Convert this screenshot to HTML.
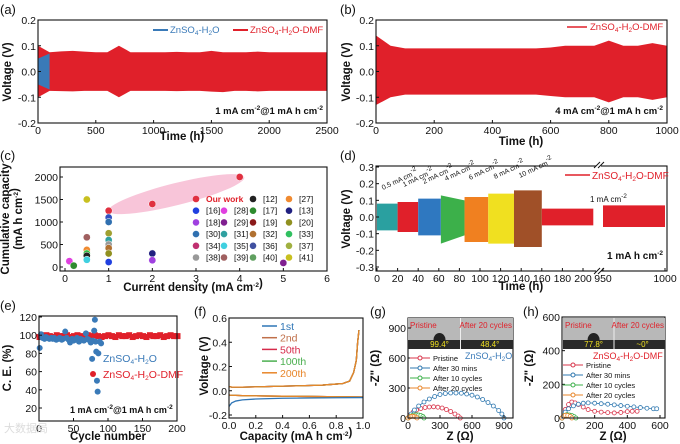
<!DOCTYPE html>
<html><head><meta charset="utf-8"><style>
body{margin:0;background:#fff}
svg{display:block;font-family:"Liberation Sans",Arial,sans-serif}
.t{font-size:10.5px;fill:#111}
.ti{font-size:11.5px;font-weight:bold;fill:#111}
.pl{font-size:13px;fill:#111}
</style></head><body>
<svg id="fig" width="680" height="444" viewBox="0 0 680 444" xmlns="http://www.w3.org/2000/svg"></svg>
<script>
// ---------- data ----------
const aTimes=[0,100,200,300,400,500,600,700,800,900,1000,1100,1200,1300,1400,1500,1600,1700,1800,1900,2000,2100,2200,2300,2400,2500];
const aUpper=[0.1,0.075,0.078,0.08,0.077,0.075,0.075,0.1,0.075,0.075,0.075,0.075,0.076,0.075,0.075,0.08,0.075,0.075,0.075,0.077,0.075,0.075,0.075,0.075,0.075,0.075];
const aLower=[-0.1,-0.075,-0.076,-0.077,-0.075,-0.075,-0.075,-0.1,-0.075,-0.075,-0.075,-0.075,-0.076,-0.075,-0.075,-0.078,-0.08,-0.075,-0.075,-0.077,-0.075,-0.075,-0.075,-0.075,-0.075,-0.075];
const aBlueTimes=[0,100];
const aBlueUpper=[0.05,0.07];
const aBlueLower=[-0.05,-0.07];
const bTimes=[0,50,100,150,200,250,300,350,400,450,500,550,600,650,700,750,800,850,900,950,1000];
const bUpper=[0.14,0.1,0.09,0.09,0.09,0.09,0.09,0.09,0.09,0.09,0.09,0.09,0.093,0.1,0.1,0.1,0.12,0.1,0.1,0.11,0.1];
const bLower=[-0.13,-0.1,-0.09,-0.09,-0.09,-0.09,-0.09,-0.09,-0.09,-0.09,-0.09,-0.09,-0.095,-0.1,-0.1,-0.1,-0.12,-0.1,-0.1,-0.11,-0.1];
const cX=[0.1,0.2,0.5,0.5,0.5,0.5,0.5,0.5,1,1,1,1,1,1,1,1,1,2,2,2,4,5];
const cY=[130,30,1500,660,380,300,250,160,1250,1100,1000,750,600,500,420,300,110,1400,300,150,2000,90];
const cColors=["#e040e0","#2e8b2e","#c8c020","#a06060","#f08a30","#30c040","#222","#40d0e0","#e03040","#3050c0","#3070b0","#a0a030","#30a0a0","#999","#b07030","#909020","#2040e0","#e03040","#202080","#a040e0","#e03040","#802090"];
const cLegendLabels=["Our work","[12]","[27]","[16]","[28]","[17]","[13]","[18]","[29]","[19]","[20]","[30]","[31]","[32]","[33]","[34]","[35]","[36]","[37]","[38]","[39]","[40]","[41]"];
const cLegendColors=["#e03040","#222","#f08a30","#2040e0","#e040e0","#2e8b2e","#202080","#a040e0","#802090","#8b1a1a","#909020","#3070b0","#30a0a0","#b07030","#30c060","#c03070","#40d0e0","#4050a0","#a0b040","#999","#a06060","#60a060","#c8c020"];
const dSegStart=[0,20,40,62,85,108,133,160,950];
const dSegEnd=[20,40,62,85,108,133,160,210,1000];
const dSegUp=[[0.08,0.08],[0.09,0.09],[0.11,0.11],[0.13,0.1],[0.12,0.12],[0.14,0.14],[0.16,0.16],[0.05,0.05],[0.07,0.07]];
const dSegLow=[[-0.08,-0.08],[-0.09,-0.09],[-0.11,-0.11],[-0.16,-0.11],[-0.15,-0.15],[-0.16,-0.16],[-0.18,-0.18],[-0.05,-0.05],[-0.06,-0.06]];
const dSegColors=["#2aa0a0","#e0202a","#2f78c0","#3cb04a","#f08020","#f0e020","#a05028","#e0202a","#e0202a"];
const dSegLabels=["0.5 mA cm","1 mA cm","2 mA cm","4 mA cm","6 mA cm","8 mA cm","10 mA cm"];
const eBlueX=[1,3,5,8,10,12,15,18,20,22,25,28,30,33,35,38,40,43,45,48,50,53,55,58,60,63,65,68,70,72,75,77,78,80,81,82,83,84,85,86,88,90];
const eBlueY=[86,101,97,96,98,97,96,97,96,97,95,96,97,95,96,104,97,95,92,96,94,95,97,93,96,95,94,102,96,95,92,74,94,105,117,93,82,50,38,80,93,91];
const eRedX=[0,5,10,15,20,25,30,35,40,45,50,55,60,65,70,75,80,85,90,95,100,105,110,115,120,125,130,135,140,145,150,155,160,165,170,175,180,185,190,195,200];
const eRedY=[98,99,100,99,98,100,99,99,100,98,99,100,99,98,100,99,100,99,98,99,100,99,98,100,99,99,100,98,99,100,99,98,100,99,99,100,98,99,100,99,99];
const fCap=[0,0.02,0.05,0.1,0.2,0.3,0.4,0.5,0.6,0.7,0.8,0.85,0.9,0.93,0.95,0.96,0.97];
const fChg=[0.035,0.03,0.03,0.03,0.032,0.035,0.038,0.04,0.043,0.047,0.055,0.06,0.08,0.15,0.25,0.4,0.5];
const fDisCap=[0,0.02,0.05,0.1,0.2,0.4,0.6,0.8,1.0];
const f1stDis=[-0.13,-0.1,-0.085,-0.075,-0.068,-0.062,-0.06,-0.058,-0.056];
const fDis=[-0.035,-0.037,-0.038,-0.04,-0.042,-0.045,-0.047,-0.05,-0.052];
const fNames=["1st","2nd","50th","100th","200th"];
const fColors=["#2e75b6","#c0704a","#d62a4a","#4caf50","#e8862a"];
const gBlueZ=[0,30,60,100,150,200,250,300,350,400,450,500,550,600,650,700,750,800,850,880,900];
const gBlueZi=[0,40,80,120,160,190,215,235,245,250,250,248,240,228,210,185,155,120,75,40,0];
const gRedZ=[0,20,50,80,120,160,200,240,280,320,360,400,440,470,490];
const gRedZi=[0,30,60,80,95,105,110,112,108,100,85,65,40,20,0];
const gGreenZ=[0,20,40,60,80,100,120,140,150];
const gGreenZi=[0,15,25,30,32,30,25,15,0];
const gOrangeZ=[0,15,30,45,60,75,85];
const gOrangeZi=[0,10,16,18,15,8,0];
const hRedZ=[0,20,40,60,80,100,130,160,200,240,280,320,360,400,430,460];
const hRedZi=[0,50,80,95,90,80,65,50,40,35,32,30,33,38,40,40];
const hBlueZ=[0,20,40,70,100,130,160,200,240,280,320,360,400,440,480,520,560,580];
const hBlueZi=[0,35,55,72,82,88,90,88,85,82,78,74,70,66,62,58,55,55];
const hGreenZ=[0,15,30,45,60,75,85];
const hGreenZi=[0,15,20,18,15,8,0];
const hOrangeZ=[0,10,20,35,50,60];
const hOrangeZi=[0,12,16,15,10,0];
const legendLabels=["Pristine","After 30 mins","After 10 cycles","After 20 cycles"];
const nyqColors=["#d8344a","#2f78b0","#3cb04a","#e8862a"];

// ---------- helpers ----------
const NS="http://www.w3.org/2000/svg";
const svg=document.getElementById('fig');
function el(tag,attrs,parent){const e=document.createElementNS(NS,tag);for(const k in attrs)e.setAttribute(k,attrs[k]);(parent||svg).appendChild(e);return e;}
function lin(d0,d1,r0,r1){return v=>r0+(v-d0)*(r1-r0)/(d1-d0);}
function txt(x,y,s,cls,name,extra){extra=extra||{};const a={x:x,y:y,class:cls};let st='';
for(const k in extra){if(k==='fill'||k==='font-size'||k==='font-weight')st+=k+':'+extra[k]+(k==='font-size'?'px':'')+';';else a[k]=extra[k];}
if(st)a.style=st;
const t=el('text',a);t.innerHTML=s;


return t;}
function frame(x0,y0,x1,y1,name){const r=el('rect',{x:x0,y:y0,width:x1-x0,height:y1-y0,fill:'none',stroke:'#111','stroke-width':1.1});

}
function xTicks(sx,vals,labels,yb,name){vals.forEach((v,i)=>{el('line',{x1:sx(v),x2:sx(v),y1:yb,y2:yb-3,stroke:'#111'});txt(sx(v),yb+11,labels[i],'t',name+'-tick-label',{'text-anchor':'middle'});});}
function yTicks(sy,vals,labels,xl,name){vals.forEach((v,i)=>{el('line',{x1:xl,x2:xl+3,y1:sy(v),y2:sy(v),stroke:'#111'});txt(xl-2,sy(v)+4,labels[i],'t',name+'-tick-label',{'text-anchor':'end'});});}
function band(xs,up,lo,sx,sy,color,name){let p=xs.map((x,i)=>sx(x)+','+sy(up[i]));for(let i=xs.length-1;i>=0;i--)p.push(sx(xs[i])+','+sy(lo[i]));
const g=el('polygon',{points:p.join(' '),fill:color});

}
function line(xs,ys,sx,sy,color,name,w){const p=el('polyline',{points:xs.map((x,i)=>sx(x)+','+sy(ys[i])).join(' '),fill:'none',stroke:color,'stroke-width':w||1.3});

}
function ytitle(x,y,s,name){txt(x,y,s,'ti',name,{'text-anchor':'middle',transform:'rotate(-90 '+x+' '+y+')'});}
const sub=s=>'<tspan style="font-size:6.5px" dy="2">'+s+'</tspan><tspan dy="-2">';
const sup=s=>'<tspan style="font-size:6.5px" dy="-4">'+s+'</tspan><tspan dy="4">';
const ZnH2O='ZnSO'+sub('4')+'-H'+sub('2')+'O</tspan></tspan>';
const ZnDMF='ZnSO'+sub('4')+'-H'+sub('2')+'O-DMF</tspan></tspan>';

// ---------- (a) ----------
{const sx=lin(0,2500,38,327),sy=lin(-0.2,0.2,123,20);
band(aTimes,aUpper,aLower,sx,sy,'#e0202a','a-dmf-voltage-band');
band(aBlueTimes,aBlueUpper,aBlueLower,sx,sy,'#3a7ab8','a-h2o-voltage-band');
frame(38,20,327,123,'a-plot-frame');
xTicks(sx,[0,500,1000,1500,2000,2500],['0','500','1000','1500','2000','2500'],123,'a-x');
yTicks(sy,[-0.2,-0.1,0,0.1,0.2],['-0.2','-0.1','0.0','0.1','0.2'],38,'a-y');
txt(0,14,'(a)','pl','a-panel-label');
ytitle(11,72,'Voltage (V)','a-y-axis-title');txt(182,140,'Time (h)','ti','a-x-axis-title',{'text-anchor':'middle'});
el('line',{x1:153,x2:168,y1:30,y2:30,stroke:'#3a7ab8','stroke-width':2});txt(170,33,ZnH2O,'t','a-legend-h2o',{fill:'#3a7ab8','font-size':'9.5'});
el('line',{x1:233,x2:248,y1:30,y2:30,stroke:'#e0202a','stroke-width':2});txt(250,33,ZnDMF,'t','a-legend-dmf',{fill:'#e0202a','font-size':'9.5'});
txt(323,114,'1 mA cm'+sup('-2')+'@1 mA h cm'+sup('-2')+'</tspan></tspan>','t','a-condition-label',{'text-anchor':'end','font-weight':'bold','font-size':'9.5'});}

// ---------- (b) ----------
{const sx=lin(0,1000,376,667),sy=lin(-0.2,0.2,123,20);
band(bTimes,bUpper,bLower,sx,sy,'#e0202a','b-dmf-voltage-band');
frame(376,20,667,123,'b-plot-frame');
xTicks(sx,[0,200,400,600,800,1000],['0','200','400','600','800','1000'],123,'b-x');
yTicks(sy,[-0.2,-0.1,0,0.1,0.2],['-0.2','-0.1','0.0','0.1','0.2'],376,'b-y');
txt(340,14,'(b)','pl','b-panel-label');
ytitle(350,72,'Voltage (V)','b-y-axis-title');txt(521,145,'Time (h)','ti','b-x-axis-title',{'text-anchor':'middle'});
el('line',{x1:567,x2:587,y1:27,y2:27,stroke:'#e0202a','stroke-width':1.5});txt(590,30,ZnDMF,'t','b-legend-dmf',{fill:'#e0202a','font-size':'9.5'});
txt(663,114,'4 mA cm'+sup('-2')+'@1 mA h cm'+sup('-2')+'</tspan></tspan>','t','b-condition-label',{'text-anchor':'end','font-weight':'bold','font-size':'9.5'});}

// ---------- (c) ----------
{const sx=lin(0,6,65,327),sy=lin(0,2000,267,177);
const ell=el('ellipse',{cx:sx(2.55),cy:sy(1620),rx:70,ry:11,fill:'#f6b6cf',opacity:0.8,transform:'rotate(-14 '+sx(2.55)+' '+sy(1620)+')'});


cX.forEach((x,i)=>{const c=el('circle',{cx:sx(x),cy:sy(cY[i]),r:3.6,fill:cColors[i],stroke:'#fff','stroke-width':0.5});

});
frame(60,167,327,271,'c-plot-frame');
xTicks(sx,[0,1,2,3,4,5,6],['0','1','2','3','4','5','6'],271,'c-x');
yTicks(sy,[0,500,1000,1500,2000],['0','500','1000','1500','2000'],60,'c-y');
txt(0,160,'(c)','pl','c-panel-label');
ytitle(9,219,'Cumulative capacity','c-y-axis-title');ytitle(22,219,'(mA h cm'+sup('-2')+'</tspan>)','c-y-axis-unit');
txt(193,291,'Current density (mA cm'+sup('-2')+'</tspan>)','ti','c-x-axis-title',{'text-anchor':'middle'});
const colX=[[196,206],[224,234],[253,263],[289,299]];
cLegendLabels.forEach((s,i)=>{let r,c;if(i===0){r=0;c=0;}else if(i<3){r=0;c=i+1;}else{r=Math.floor((i-3)/4)+1;c=(i-3)%4;}
const cx=i===0?196:colX[c][0],tx=i===0?206:colX[c][1];const y=199+r*11.7;
const d=el('circle',{cx:cx,cy:y,r:3.3,fill:cLegendColors[i]});


txt(tx,y+3,s,'t','c-legend-label',i===0?{fill:'#e0202a','font-weight':'bold','font-size':'8.5'}:{'font-size':'8.5'});});}

// ---------- (d) ----------
{const sx=t=>t<=210?377+t*1.03:603+(t-950)*1.24,sy=lin(-0.3,0.3,267,167);
dSegStart.forEach((s,i)=>band([s,dSegEnd[i]],dSegUp[i],dSegLow[i],sx,sy,dSegColors[i],'d-segment-band'));
frame(376,166,667,271,'d-plot-frame');
el('rect',{x:596,y:163,width:5,height:112,fill:'#fff'});
['M594 168 L600 162','M598 168 L604 162','M594 274 L600 268','M598 274 L604 268'].forEach(p=>el('path',{d:p,stroke:'#111',fill:'none'}));
xTicks(sx,[0,20,40,60,80,100,120,140,160,180,200,950,1000],['0','20','40','60','80','100','120','140','160','180','200','950','1000'],271,'d-x');
yTicks(sy,[-0.3,-0.2,-0.1,0,0.1,0.2,0.3],['-0.3','-0.2','-0.1','0.0','0.1','0.2','0.3'],376,'d-y');
txt(340,160,'(d)','pl','d-panel-label');
ytitle(350,219,'Voltage (V)','d-y-axis-title');txt(521,290,'Time (h)','ti','d-x-axis-title',{'text-anchor':'middle'});
const lx=[383,404,424,446,470,495,520],ly=[190,187,184,181,180,179,178];
dSegLabels.forEach((s,i)=>txt(lx[i],ly[i],s+sup('-2')+'</tspan>','t','d-rate-label',{'font-size':'7','transform':'rotate(-25 '+lx[i]+' '+ly[i]+')'}));
txt(590,202,'1 mA cm'+sup('-2')+'</tspan>','t','d-rate-label-final',{'font-size':'8'});
el('line',{x1:565,x2:590,y1:175,y2:175,stroke:'#e0202a','stroke-width':1.5});txt(592,179,ZnDMF,'t','d-legend-dmf',{fill:'#e0202a','font-size':'10'});
txt(663,259,'1 mA h cm'+sup('-2')+'</tspan>','t','d-condition-label',{'text-anchor':'end','font-weight':'bold','font-size':'10'});}

// ---------- (e) ----------
{const sx=lin(0,200,39,177),sy=lin(20,120,408,317);
eRedX.forEach((x,i)=>{const c=el('rect',{x:sx(x)-2.5,y:sy(eRedY[i])-3,width:6,height:6,fill:'#e0202a'});

});
eBlueX.forEach((x,i)=>{const c=el('circle',{cx:sx(x),cy:sy(eBlueY[i]),r:3,fill:'#3a7ab8'});

});
frame(39,316,177,421,'e-plot-frame');
xTicks(sx,[0,50,100,150,200],['0','50','100','150','200'],421,'e-x');
yTicks(sy,[20,40,60,80,100,120],['20','40','60','80','100','120'],39,'e-y');
txt(0,310,'(e)','pl','e-panel-label');
ytitle(11,368,'C. E. (%)','e-y-axis-title');txt(108,440,'Cycle number','ti','e-x-axis-title',{'text-anchor':'middle'});
txt(103,362,ZnH2O,'t','e-legend-h2o',{fill:'#3a7ab8','font-size':'10.5'});
el('circle',{cx:93,cy:374,r:3,fill:'#e0202a'});txt(103,378,ZnDMF,'t','e-legend-dmf',{fill:'#e0202a','font-size':'10.5'});
txt(70,413,'1 mA cm'+sup('-2')+'@1 mA h cm'+sup('-2')+'</tspan></tspan>','t','e-condition-label',{'font-weight':'bold','font-size':'9'});
txt(4,432,'大数据局','t','watermark',{fill:'#dcdcdc','font-size':'11'});}

// ---------- (f) ----------
{const sx=lin(0,1,229,363),sy=lin(-0.2,0.6,415,318);
fNames.forEach((n,i)=>{if(i>0)line(fDisCap,fDis,sx,sy,fColors[i],'f-discharge-'+n);line(fCap,fChg,sx,sy,fColors[i],'f-charge-'+n);});
line(fDisCap,f1stDis,sx,sy,fColors[0],'f-discharge-1st');
frame(229,318,363,418,'f-plot-frame');
xTicks(sx,[0,0.2,0.4,0.6,0.8,1.0],['0.0','0.2','0.4','0.6','0.8','1.0'],418,'f-x');
yTicks(sy,[-0.2,0,0.2,0.4,0.6],['-0.2','0.0','0.2','0.4','0.6'],229,'f-y');
txt(194,316,'(f)','pl','f-panel-label');
ytitle(208,366,'Voltage (V)','f-y-axis-title');txt(296,440,'Capacity (mA h cm'+sup('-2')+'</tspan>)','ti','f-x-axis-title',{'text-anchor':'middle'});
fNames.forEach((n,i)=>{const y=326+i*11.7;el('line',{x1:262,x2:277,y1:y,y2:y,stroke:fColors[i],'stroke-width':1.5});txt(280,y+4,n,'t','f-legend-'+n,{fill:fColors[i]});});}

// ---------- (g),(h) ----------
function nyq(sx,sy,sets,name){sets.forEach((s,k)=>{line(s[0],s[1],sx,sy,nyqColors[k],name+'-line',0.8);s[0].forEach((z,i)=>{const c=el('circle',{cx:sx(z),cy:sy(s[1][i]),r:2,fill:'#fff',stroke:nyqColors[k],'stroke-width':0.8});

});});}
function inset(x0,x1,a1,a2,name){const w=x1-x0,m=x0+w/2;
const r=el('rect',{x:x0,y:318,width:w,height:31,fill:'#b8b8b8'});
el('rect',{x:x0,y:340,width:w,height:9,fill:'#2a2a2a'});el('line',{x1:m,x2:m,y1:318,y2:349,stroke:'#eee'});
el('ellipse',{cx:x0+w*0.3,cy:340,rx:6,ry:7,fill:'#222'});
txt(x0+2,328,'Pristine','t',name+'-pristine',{fill:'#e0202a','font-size':'8'});txt(x1-1,328,'After 20 cycles','t',name+'-after',{fill:'#e0202a','font-size':'8','text-anchor':'end'});
txt(x0+w*0.3,347,a1,'t',name+'-angle1',{fill:'#f0e020','font-size':'8','text-anchor':'middle'});txt(x0+w*0.78,347,a2,'t',name+'-angle2',{fill:'#f0e020','font-size':'8','text-anchor':'middle'});}
function nleg(x,y0,name){legendLabels.forEach((s,i)=>{const y=y0+i*10;el('line',{x1:x,x2:x+20,y1:y,y2:y,stroke:nyqColors[i]});el('circle',{cx:x+10,cy:y,r:2,fill:'#fff',stroke:nyqColors[i]});txt(x+23,y+3,s,'t',name+'-legend-entry',{'font-size':'7.5'});});}
{const sx=lin(0,900,408,504),sy=lin(0,900,418,328);
nyq(sx,sy,[[gRedZ,gRedZi],[gBlueZ,gBlueZi],[gGreenZ,gGreenZi],[gOrangeZ,gOrangeZi]],'g');
frame(408,318,513,418,'g-plot-frame');inset(408,513,'99.4°','48.4°','g-contact-angle-inset');
xTicks(sx,[0,300,600,900],['0','300','600','900'],418,'g-x');
yTicks(sy,[0,300,600,900],['0','300','600','900'],408,'g-y');
txt(370,316,'(g)','pl','g-panel-label');ytitle(379,368,'-Z" (Ω)','g-y-axis-title');
txt(460,440,'Z (Ω)','ti','g-x-axis-title',{'text-anchor':'middle'});
txt(465,359,ZnH2O,'t','g-electrolyte-label',{fill:'#3a7ab8','font-size':'9'});nleg(410,358,'g');}
{const sx=lin(0,600,562,660),sy=lin(0,600,418,317);
nyq(sx,sy,[[hRedZ,hRedZi],[hBlueZ,hBlueZi],[hGreenZ,hGreenZi],[hOrangeZ,hOrangeZi]],'h');
frame(562,317,665,418,'h-plot-frame');inset(563,665,'77.8°','~0°','h-contact-angle-inset');
xTicks(sx,[0,200,400,600],['0','200','400','600'],418,'h-x');
yTicks(sy,[0,200,400,600],['0','200','400','600'],562,'h-y');
txt(523,316,'(h)','pl','h-panel-label');ytitle(533,368,'-Z" (Ω)','h-y-axis-title');
txt(613,440,'Z (Ω)','ti','h-x-axis-title',{'text-anchor':'middle'});
txt(593,359,ZnDMF,'t','h-electrolyte-label',{fill:'#e0202a','font-size':'9'});nleg(563,365,'h');}
</script>
</body></html>
